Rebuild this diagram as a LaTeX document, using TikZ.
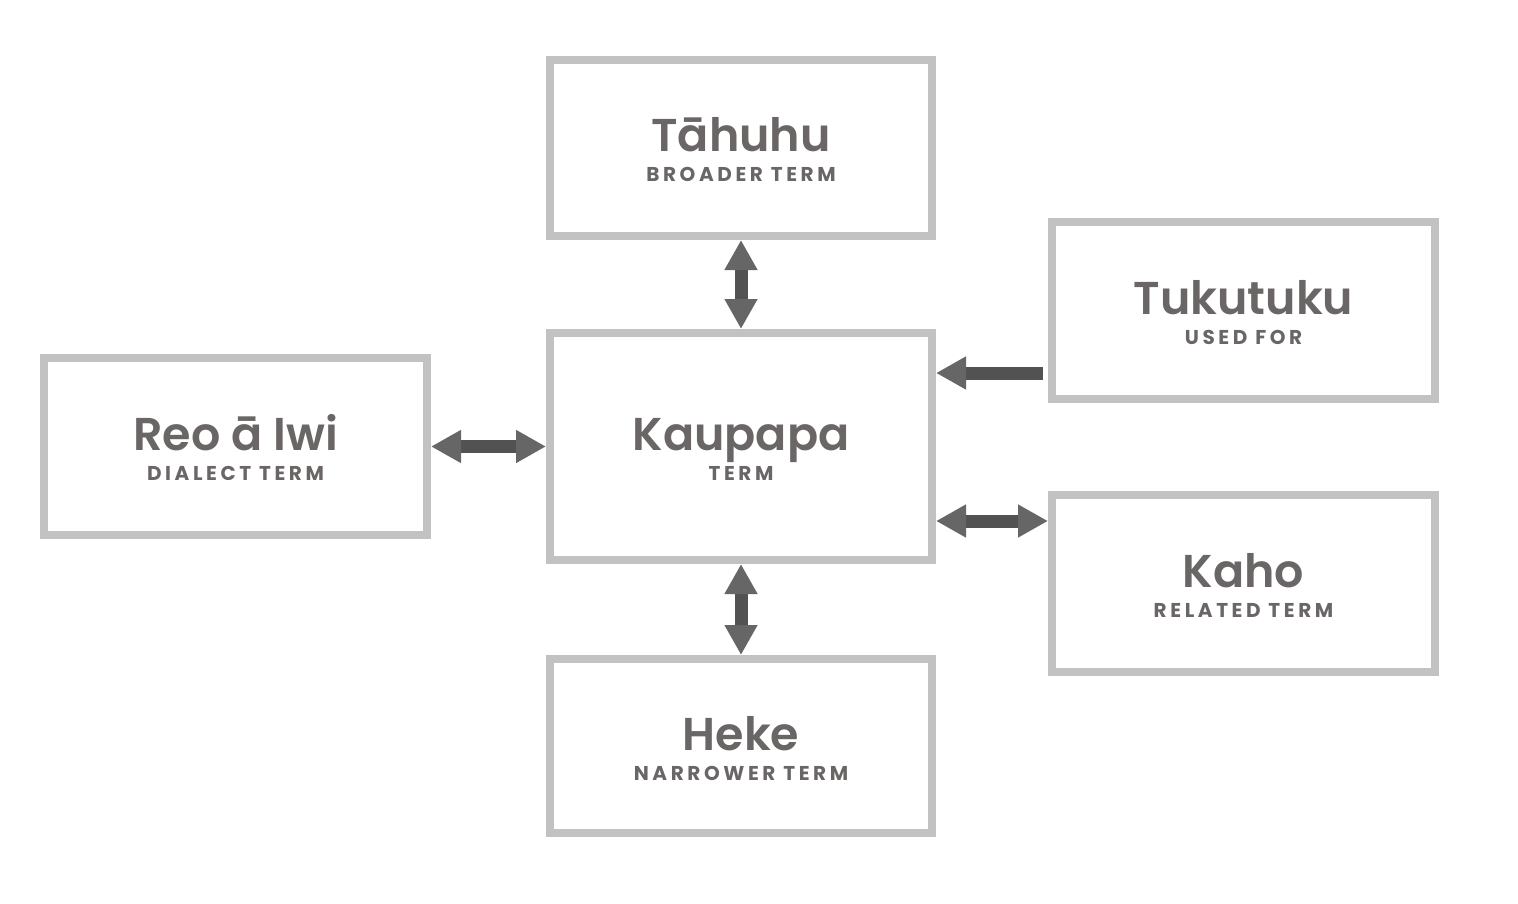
\documentclass[tikz,border=0pt]{standalone}
\usepackage{fontspec}
\setmainfont{Poppins}[BoldFont={Poppins SemiBold}]
\newfontfamily\subfont{Poppins}[LetterSpace=18]
\usetikzlibrary{arrows.meta,calc}
\definecolor{boxgray}{HTML}{C2C2C2}
\definecolor{txtgray}{HTML}{6A6665}
\definecolor{shaft}{HTML}{525252}
\definecolor{headc}{HTML}{666666}
\tikzset{
  termbox/.style={draw=boxgray, line width=8pt, rectangle, minimum width=382pt, minimum height=176pt, inner sep=0pt},
  ttl/.style={text=txtgray, font=\fontsize{46}{50}\selectfont\bfseries, anchor=base, inner sep=0pt},
  sub/.style={text=txtgray, font=\fontsize{20}{22}\subfont\bfseries\selectfont, anchor=base, inner sep=0pt},
  conn/.style={draw=shaft, line width=13pt},
  tipA/.tip={Triangle[width=31pt,length=30pt,color=headc]},
}
\begin{document}
\begin{tikzpicture}[x=1pt,y=-1pt]
\useasboundingbox[fill=white] (0,0) rectangle (1518,904);
\node[termbox, minimum height=176pt] (tah) at (741,148) {};
\node[termbox, minimum height=227pt] (kau) at (741,446.5) {};
\node[termbox, minimum height=174pt] (hek) at (741,746) {};
\node[termbox, minimum width=383pt, minimum height=177pt] (reo) at (235.5,446.5) {};
\node[termbox, minimum width=383pt, minimum height=177pt] (tuk) at (1243.5,310.5) {};
\node[termbox, minimum width=383pt, minimum height=177pt] (kah) at (1243.5,583.5) {};
\foreach \n/\t/\s in {tah/T\=ahuhu/BROADER TERM, kau/Kaupapa/TERM, hek/Heke/NARROWER TERM, reo/Reo \=a Iwi/DIALECT TERM, tuk/Tukutuku/USED FOR, kah/Kaho/RELATED TERM}{
  \node[ttl] (\n t) at ([yshift=-4pt]\n.center) {\t};
  \node[sub] (\n s) at ([yshift=-34pt]\n.center) {\s};
}
\coordinate (tukend) at (1043,373);
\coordinate (kahy) at (0,521);
\draw[conn, tipA-tipA] (tah.south) -- (kau.north);
\draw[conn, tipA-tipA] (kau.south) -- (hek.north);
\draw[conn, tipA-tipA] (reo.east) -- (kau.west);
\draw[conn, -tipA] (tukend) -- (tukend -| kau.east);
\draw[conn, tipA-tipA] (kahy -| kau.east) -- (kahy -| kah.west);
\end{tikzpicture}
\end{document}
